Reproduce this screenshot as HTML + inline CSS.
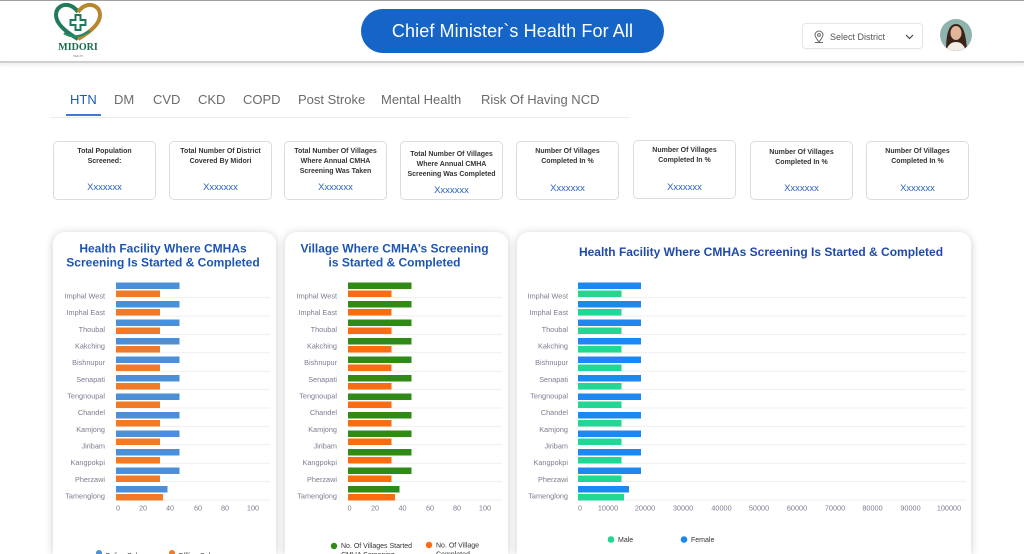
<!DOCTYPE html>
<html><head><meta charset="utf-8">
<style>
*{margin:0;padding:0;box-sizing:border-box}
html,body{width:1024px;height:554px;overflow:hidden;background:#fff;font-family:"Liberation Sans",sans-serif;position:relative}
.abs{position:absolute}
#hdr{left:0;top:0;width:1024px;height:63px;background:#fff;border-top:1px solid #a0a0a0;border-bottom:2px solid #cfcfcf;box-shadow:0 2px 4px rgba(0,0,0,0.08)}
#btn{left:361px;top:9px;width:303px;height:44px;border-radius:22px;background:#1565c9;color:#fff;font-size:18px;line-height:44px;text-align:center;font-weight:500;letter-spacing:0.1px}
#sel{left:802px;top:23px;width:121px;height:26px;border:1px solid #e6e6e6;border-radius:4px;background:#fff;box-shadow:0 1px 2px rgba(0,0,0,0.04)}
#sel span{position:absolute;left:27px;top:8px;font-size:9px;color:#555}
.tab{position:absolute;top:92px;font-size:13px;color:#6a6a6a}
.stat{position:absolute;top:141px;width:103px;height:59px;border:1px solid #dcdcdc;border-radius:5px;background:#fff;text-align:center}
.stat .t{position:absolute;left:0;right:0;font-size:7px;font-weight:bold;color:#333;line-height:10px}
.stat .v{position:absolute;left:0;right:0;font-size:9.5px;color:#2a62c0}
.card{position:absolute;top:232px;height:322px;background:#fff;border-radius:12px 12px 0 0;box-shadow:0 1px 9px rgba(0,0,0,0.2)}
</style></head><body>

<div id="hdr" class="abs"></div>

<!-- logo -->
<svg class="abs" style="left:50px;top:3px" width="56" height="58" viewBox="0 0 56 58">
  <path d="M28 36 C14 28 6 20 6 12 C6 5 12 1 18 2 C23 3 26 6 28 9" fill="none" stroke="#1f7a5a" stroke-width="4"/>
  <path d="M28 9 C30 6 33 3 38 2 C44 1 50 5 50 12 C50 20 42 28 28 36" fill="none" stroke="#b8862b" stroke-width="4"/>
  <rect x="24.5" y="11" width="7" height="17" fill="#1f7a5a"/>
  <rect x="19.5" y="16" width="17" height="7" fill="#1f7a5a"/>
  <rect x="26.5" y="13" width="3" height="13" fill="#fff"/>
  <rect x="21.5" y="18" width="13" height="3" fill="#fff"/>
  <path d="M14 30 C20 34 28 35 36 30 L40 28" fill="none" stroke="#2a8a66" stroke-width="2.5"/>
  <text x="28" y="47" text-anchor="middle" font-family="Liberation Serif,serif" font-weight="bold" font-size="10" fill="#1b6b4a">MIDORI</text>
  <text x="28" y="54" text-anchor="middle" font-family="Liberation Sans,sans-serif" font-size="2.5" fill="#777">HEALTH</text>
</svg>

<div id="btn" class="abs">Chief Minister`s Health For All</div>

<div id="sel" class="abs">
  <svg class="abs" style="left:10px;top:6px" width="12" height="14" viewBox="0 0 12 14">
    <path d="M6 12 C3 8 2 6.5 2 5 A4 4 0 0 1 10 5 C10 6.5 9 8 6 12Z" fill="none" stroke="#666" stroke-width="1"/>
    <circle cx="6" cy="5" r="1.4" fill="none" stroke="#666" stroke-width="1"/>
    <path d="M2 12.5 H10" stroke="#666" stroke-width="1"/>
  </svg>
  <span>Select District</span>
  <svg class="abs" style="left:102px;top:10px" width="9" height="6" viewBox="0 0 9 6"><path d="M1 1 L4.5 4.5 L8 1" fill="none" stroke="#444" stroke-width="1.2"/></svg>
</div>

<!-- avatar -->
<svg class="abs" style="left:940px;top:19px" width="32" height="32" viewBox="0 0 32 32">
  <defs><clipPath id="av"><circle cx="16" cy="16" r="16"/></clipPath></defs>
  <g clip-path="url(#av)">
    <rect width="32" height="32" fill="#8fb3ad"/>
    <path d="M6 32 C6 14 9 5 16 5 C23 5 26 14 27 32Z" fill="#3a2418"/>
    <ellipse cx="16" cy="14" rx="5.5" ry="7" fill="#e2b49a"/>
    <path d="M6 32 C8 25 12 23 16 23 C20 23 24 25 26 32Z" fill="#f1ece6"/>
  </g>
</svg>

<!-- tabs -->
<div class="tab" style="left:70px;color:#1a5cb8;font-weight:500">HTN</div>
<div class="tab" style="left:114px">DM</div>
<div class="tab" style="left:153px">CVD</div>
<div class="tab" style="left:198px">CKD</div>
<div class="tab" style="left:243px">COPD</div>
<div class="tab" style="left:298px">Post Stroke</div>
<div class="tab" style="left:381px">Mental Health</div>
<div class="tab" style="left:481px">Risk Of Having NCD</div>
<div class="abs" style="left:50px;top:117px;width:580px;height:1px;background:#ececec"></div>
<div class="abs" style="left:66px;top:114px;width:35px;height:2px;background:#3f7bd0"></div>

<!-- stat cards -->
<div class="stat" style="left:53px"><div class="t" style="top:5px">Total Population<br>Screened:</div><div class="v" style="top:40px">Xxxxxxx</div></div>
<div class="stat" style="left:169px"><div class="t" style="top:5px">Total Number Of District<br>Covered By Midori</div><div class="v" style="top:40px">Xxxxxxx</div></div>
<div class="stat" style="left:284px"><div class="t" style="top:5px">Total Number Of Villages<br>Where Annual CMHA<br>Screening Was Taken</div><div class="v" style="top:40px">Xxxxxxx</div></div>
<div class="stat" style="left:400px"><div class="t" style="top:8px">Total Number Of Villages<br>Where Annual CMHA<br>Screening Was Completed</div><div class="v" style="top:43px">Xxxxxxx</div></div>
<div class="stat" style="left:516px"><div class="t" style="top:5px">Number Of Villages<br>Completed In %</div><div class="v" style="top:41px">Xxxxxxx</div></div>
<div class="stat" style="left:633px;top:140px"><div class="t" style="top:5px">Number Of Villages<br>Completed In %</div><div class="v" style="top:41px">Xxxxxxx</div></div>
<div class="stat" style="left:750px"><div class="t" style="top:6px">Number Of Villages<br>Completed In %</div><div class="v" style="top:41px">Xxxxxxx</div></div>
<div class="stat" style="left:866px"><div class="t" style="top:5px">Number Of Villages<br>Completed In %</div><div class="v" style="top:41px">Xxxxxxx</div></div>

<!-- chart cards -->
<div class="card" style="left:53px;width:223px"></div>
<div class="card" style="left:285px;width:223px"></div>
<div class="card" style="left:517px;width:454px"></div>

<svg class="abs" style="left:0;top:0" width="1024" height="554" viewBox="0 0 1024 554" font-family="Liberation Sans, sans-serif">
  <!-- titles -->
  <g font-weight="bold" font-size="12" fill="#1c55b5" text-anchor="middle">
    <text x="163" y="252.5">Health Facility Where CMHAs</text>
    <text x="163" y="266.5">Screening Is Started &amp; Completed</text>
    <text x="394.5" y="252.5">Village Where CMHA’s Screening</text>
    <text x="394.5" y="266.5">is Started &amp; Completed</text>
    <text x="761" y="256" fill="#1f4aa8">Health Facility Where CMHAs Screening Is Started &amp; Completed</text>
  </g>

  <!-- gridlines -->
  <g stroke="#efefef" stroke-width="1">
    <path d="M116 297.6H270M116 316H270M116 334.4H270M116 352.8H270M116 371.2H270M116 389.6H270M116 408H270M116 426.4H270M116 444.8H270M116 463.2H270M116 481.6H270M116 500H270"/>
    <path d="M348 297.6H502M348 316H502M348 334.4H502M348 352.8H502M348 371.2H502M348 389.6H502M348 408H502M348 426.4H502M348 444.8H502M348 463.2H502M348 481.6H502M348 500H502"/>
    <path d="M578 297.6H966M578 316H966M578 334.4H966M578 352.8H966M578 371.2H966M578 389.6H966M578 408H966M578 426.4H966M578 444.8H966M578 463.2H966M578 481.6H966M578 500H966"/>
  </g>

  <!-- chart 1 bars -->
  <g transform="translate(116,0)">
    <g fill="#4a8fd8">
      <rect x="0" y="282.5" width="63.5" height="6.5"/><rect x="0" y="301" width="63.5" height="6.5"/>
      <rect x="0" y="319.5" width="63.5" height="6.5"/><rect x="0" y="338" width="63.5" height="6.5"/>
      <rect x="0" y="356.5" width="63.5" height="6.5"/><rect x="0" y="375" width="63.5" height="6.5"/>
      <rect x="0" y="393.5" width="63.5" height="6.5"/><rect x="0" y="412" width="63.5" height="6.5"/>
      <rect x="0" y="430.5" width="63.5" height="6.5"/><rect x="0" y="449" width="63.5" height="6.5"/>
      <rect x="0" y="467.5" width="63.5" height="6.5"/><rect x="0" y="486" width="51.5" height="6.5"/>
    </g>
    <g fill="#f07a28">
      <rect x="0" y="290.5" width="44" height="6.5"/><rect x="0" y="309" width="44" height="6.5"/>
      <rect x="0" y="327.5" width="44" height="6.5"/><rect x="0" y="346" width="44" height="6.5"/>
      <rect x="0" y="364.5" width="44" height="6.5"/><rect x="0" y="383" width="44" height="6.5"/>
      <rect x="0" y="401.5" width="44" height="6.5"/><rect x="0" y="420" width="44" height="6.5"/>
      <rect x="0" y="438.5" width="44" height="6.5"/><rect x="0" y="457" width="44" height="6.5"/>
      <rect x="0" y="475.5" width="44" height="6.5"/><rect x="0" y="494" width="47" height="6.5"/>
    </g>
  </g>

  <!-- chart 2 bars -->
  <g transform="translate(348,0)">
    <g fill="#2f8a16">
      <rect x="0" y="282.5" width="63.5" height="6.5"/><rect x="0" y="301" width="63.5" height="6.5"/>
      <rect x="0" y="319.5" width="63.5" height="6.5"/><rect x="0" y="338" width="63.5" height="6.5"/>
      <rect x="0" y="356.5" width="63.5" height="6.5"/><rect x="0" y="375" width="63.5" height="6.5"/>
      <rect x="0" y="393.5" width="63.5" height="6.5"/><rect x="0" y="412" width="63.5" height="6.5"/>
      <rect x="0" y="430.5" width="63.5" height="6.5"/><rect x="0" y="449" width="63.5" height="6.5"/>
      <rect x="0" y="467.5" width="63.5" height="6.5"/><rect x="0" y="486" width="51.5" height="6.5"/>
    </g>
    <g fill="#f96c12">
      <rect x="0" y="290.5" width="43.5" height="6.5"/><rect x="0" y="309" width="43.5" height="6.5"/>
      <rect x="0" y="327.5" width="43.5" height="6.5"/><rect x="0" y="346" width="43.5" height="6.5"/>
      <rect x="0" y="364.5" width="43.5" height="6.5"/><rect x="0" y="383" width="43.5" height="6.5"/>
      <rect x="0" y="401.5" width="43.5" height="6.5"/><rect x="0" y="420" width="43.5" height="6.5"/>
      <rect x="0" y="438.5" width="43.5" height="6.5"/><rect x="0" y="457" width="43.5" height="6.5"/>
      <rect x="0" y="475.5" width="43.5" height="6.5"/><rect x="0" y="494" width="47" height="6.5"/>
    </g>
  </g>

  <!-- chart 3 bars -->
  <g transform="translate(578,0)">
    <g fill="#1e88f2">
      <rect x="0" y="282.5" width="63" height="6.5"/><rect x="0" y="301" width="63" height="6.5"/>
      <rect x="0" y="319.5" width="63" height="6.5"/><rect x="0" y="338" width="63" height="6.5"/>
      <rect x="0" y="356.5" width="63" height="6.5"/><rect x="0" y="375" width="63" height="6.5"/>
      <rect x="0" y="393.5" width="63" height="6.5"/><rect x="0" y="412" width="63" height="6.5"/>
      <rect x="0" y="430.5" width="63" height="6.5"/><rect x="0" y="449" width="63" height="6.5"/>
      <rect x="0" y="467.5" width="63" height="6.5"/><rect x="0" y="486" width="51" height="6.5"/>
    </g>
    <g fill="#22d694">
      <rect x="0" y="290.5" width="43.5" height="6.5"/><rect x="0" y="309" width="43.5" height="6.5"/>
      <rect x="0" y="327.5" width="43.5" height="6.5"/><rect x="0" y="346" width="43.5" height="6.5"/>
      <rect x="0" y="364.5" width="43.5" height="6.5"/><rect x="0" y="383" width="43.5" height="6.5"/>
      <rect x="0" y="401.5" width="43.5" height="6.5"/><rect x="0" y="420" width="43.5" height="6.5"/>
      <rect x="0" y="438.5" width="43.5" height="6.5"/><rect x="0" y="457" width="43.5" height="6.5"/>
      <rect x="0" y="475.5" width="43.5" height="6.5"/><rect x="0" y="494" width="46" height="6.5"/>
    </g>
  </g>

  <!-- category labels -->
  <g font-size="7.3" fill="#7c7c90" text-anchor="end" dominant-baseline="central">
    <g transform="translate(105,0)">
      <text y="296">Imphal West</text><text y="312.7">Imphal East</text><text y="329.3">Thoubal</text>
      <text y="346">Kakching</text><text y="362.7">Bishnupur</text><text y="379.3">Senapati</text>
      <text y="396">Tengnoupal</text><text y="412.7">Chandel</text><text y="429.3">Kamjong</text>
      <text y="446">Jiribam</text><text y="462.7">Kangpokpi</text><text y="479.3">Pherzawi</text>
      <text y="496">Tamenglong</text>
    </g>
    <g transform="translate(337,0)">
      <text y="296">Imphal West</text><text y="312.7">Imphal East</text><text y="329.3">Thoubal</text>
      <text y="346">Kakching</text><text y="362.7">Bishnupur</text><text y="379.3">Senapati</text>
      <text y="396">Tengnoupal</text><text y="412.7">Chandel</text><text y="429.3">Kamjong</text>
      <text y="446">Jiribam</text><text y="462.7">Kangpokpi</text><text y="479.3">Pherzawi</text>
      <text y="496">Tamenglong</text>
    </g>
    <g transform="translate(568,0)">
      <text y="296">Imphal West</text><text y="312.7">Imphal East</text><text y="329.3">Thoubal</text>
      <text y="346">Kakching</text><text y="362.7">Bishnupur</text><text y="379.3">Senapati</text>
      <text y="396">Tengnoupal</text><text y="412.7">Chandel</text><text y="429.3">Kamjong</text>
      <text y="446">Jiribam</text><text y="462.7">Kangpokpi</text><text y="479.3">Pherzawi</text>
      <text y="496">Tamenglong</text>
    </g>
  </g>

  <!-- axis labels -->
  <g font-size="7.3" fill="#7c7c90" text-anchor="middle" dominant-baseline="central">
    <text x="118" y="508">0</text><text x="143" y="508">20</text><text x="170" y="508">40</text>
    <text x="198" y="508">60</text><text x="225" y="508">80</text><text x="253" y="508">100</text>
    <text x="349.5" y="508">0</text><text x="375" y="508">20</text><text x="402.5" y="508">40</text>
    <text x="430" y="508">60</text><text x="457" y="508">80</text><text x="485" y="508">100</text>
    <text x="580" y="508">0</text><text x="608" y="508">10000</text><text x="645" y="508">20000</text>
    <text x="683" y="508">30000</text><text x="721.5" y="508">40000</text><text x="759" y="508">50000</text>
    <text x="797" y="508">60000</text><text x="835" y="508">70000</text><text x="872.5" y="508">80000</text>
    <text x="910.5" y="508">90000</text><text x="949" y="508">100000</text>
  </g>

  <!-- legends -->
  <g font-size="7" fill="#333">
    <circle cx="99" cy="553" r="3" fill="#4a8fd8"/><text x="105" y="558">Online Sales</text>
    <circle cx="172" cy="553" r="3" fill="#f07a28"/><text x="178" y="558">Offline Sales</text>

    <circle cx="334" cy="546" r="3.2" fill="#2f8a16"/>
    <text x="341" y="548">No. Of Villages Started</text><text x="341" y="557">CMHA Screening</text>
    <circle cx="429" cy="545" r="3.2" fill="#f96c12"/>
    <text x="436" y="547.5">No. Of Village</text><text x="436" y="556.5">Completed</text>

    <circle cx="611" cy="539.5" r="3.3" fill="#22d694"/><text x="618" y="542">Male</text>
    <circle cx="684" cy="539.5" r="3.3" fill="#1e88f2"/><text x="691" y="542">Female</text>
  </g>
</svg>

</body></html>
